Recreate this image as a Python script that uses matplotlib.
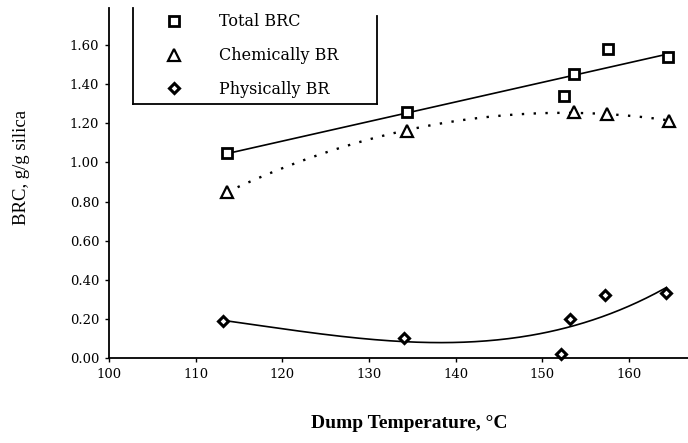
import numpy as np
import matplotlib
matplotlib.use("Agg")
import matplotlib.pyplot as plt
from matplotlib.lines import Line2D

# Data (corrected for the scan tilt)
total_T = [113.6, 134.4, 152.5, 153.6, 157.6, 164.5]
total_BRC = [1.05, 1.26, 1.34, 1.45, 1.58, 1.54]

chem_T = [113.6, 134.4, 153.7, 157.5, 164.6]
chem_BR = [0.85, 1.16, 1.26, 1.25, 1.21]

phys_T = [113.2, 134.0, 152.1, 153.2, 157.2, 164.3]
phys_BR = [0.19, 0.10, 0.02, 0.20, 0.32, 0.33]

x_ticks = [100, 110, 120, 130, 140, 150, 160]
y_ticks = [0.0, 0.2, 0.4, 0.6, 0.8, 1.0, 1.2, 1.4, 1.6]
labels = ["Total BRC", "Chemically BR", "Physically BR"]

W, H = 688, 443
fig = plt.figure(figsize=(W / 100, H / 100), dpi=100)
ax_left, ax_bottom = 109 / W, (H - 358) / H
ax = fig.add_axes([ax_left, ax_bottom, 1 - ax_left, (358 - 8) / H])
ax.set_xlim(100, 166.8)
ax.set_ylim(0, 1.79)

for s in ["top", "right"]:
    ax.spines[s].set_visible(False)
for s in ["left", "bottom"]:
    ax.spines[s].set_linewidth(1.3)

ax.set_xticks(x_ticks)
ax.set_yticks(y_ticks)
ax.set_xticklabels([str(t) for t in x_ticks])
ax.set_yticklabels([f"{t:.2f}" for t in y_ticks])
ax.tick_params(axis="both", direction="out", length=3, width=1, labelsize=9.5,
               pad=4)
for lab in ax.get_xticklabels() + ax.get_yticklabels():
    lab.set_family("DejaVu Serif")

# trendlines
def trend(xs, ys, deg):
    c = np.polyfit(xs, ys, deg)
    xx = np.linspace(min(xs), max(xs), 200)
    return xx, np.polyval(c, xx)

xx, yy = trend(total_T, total_BRC, 1)
ax.plot(xx, yy, color="black", lw=1.2)
xx, yy = trend(chem_T, chem_BR, 2)
ax.plot(xx, yy, color="black", lw=1.7, linestyle=(0, (1, 4)))
xx, yy = trend(phys_T, phys_BR, 3)
ax.plot(xx, yy, color="black", lw=1.2)

sq = dict(marker="s", ms=6.5, mfc="white", mec="black", mew=2.0, ls="none")
tri = dict(marker="^", ms=9, mfc="white", mec="black", mew=1.6, ls="none")
dia = dict(marker="D", ms=5.5, mfc="white", mec="black", mew=2.2, ls="none")

ax.plot(total_T, total_BRC, **sq, clip_on=False)
ax.plot(chem_T, chem_BR, **tri, clip_on=False)
ax.plot(phys_T, phys_BR, **dia, clip_on=False)

handles = [Line2D([], [], **sq), Line2D([], [], **tri), Line2D([], [], **dia)]
leg = fig.legend(handles, labels, loc="upper left",
                 bbox_to_anchor=(160 / W, 1 - 7 / H),
                 frameon=False, handlelength=1.0, handletextpad=2.3,
                 labelspacing=1.05, borderaxespad=0,
                 prop={"family": "DejaVu Serif", "size": 11.5})

# legend box border (left, bottom, right sides only)
lx0, lx1 = 133 / W, 377 / W
ly_bot, ly_top_l, ly_top_r = 1 - 104 / H, 1 - 8 / H, 1 - 16 / H
for xs, ys in [([lx0, lx0], [ly_top_l, ly_bot]),
               ([lx0, lx1], [ly_bot, ly_bot]),
               ([lx1, lx1], [ly_bot, ly_top_r])]:
    fig.add_artist(Line2D(xs, ys, color="black", lw=1.3,
                          transform=fig.transFigure))

fig.text(409 / W, 1 - 423 / H, "Dump Temperature, °C", ha="center",
         va="center", family="Liberation Serif", weight="bold", fontsize=14)
fig.text(22 / W, 1 - 167 / H, "BRC, g/g silica", ha="center", va="center",
         rotation=90, family="Liberation Serif", fontsize=13.5)

fig.savefig("out.png", dpi=100)
